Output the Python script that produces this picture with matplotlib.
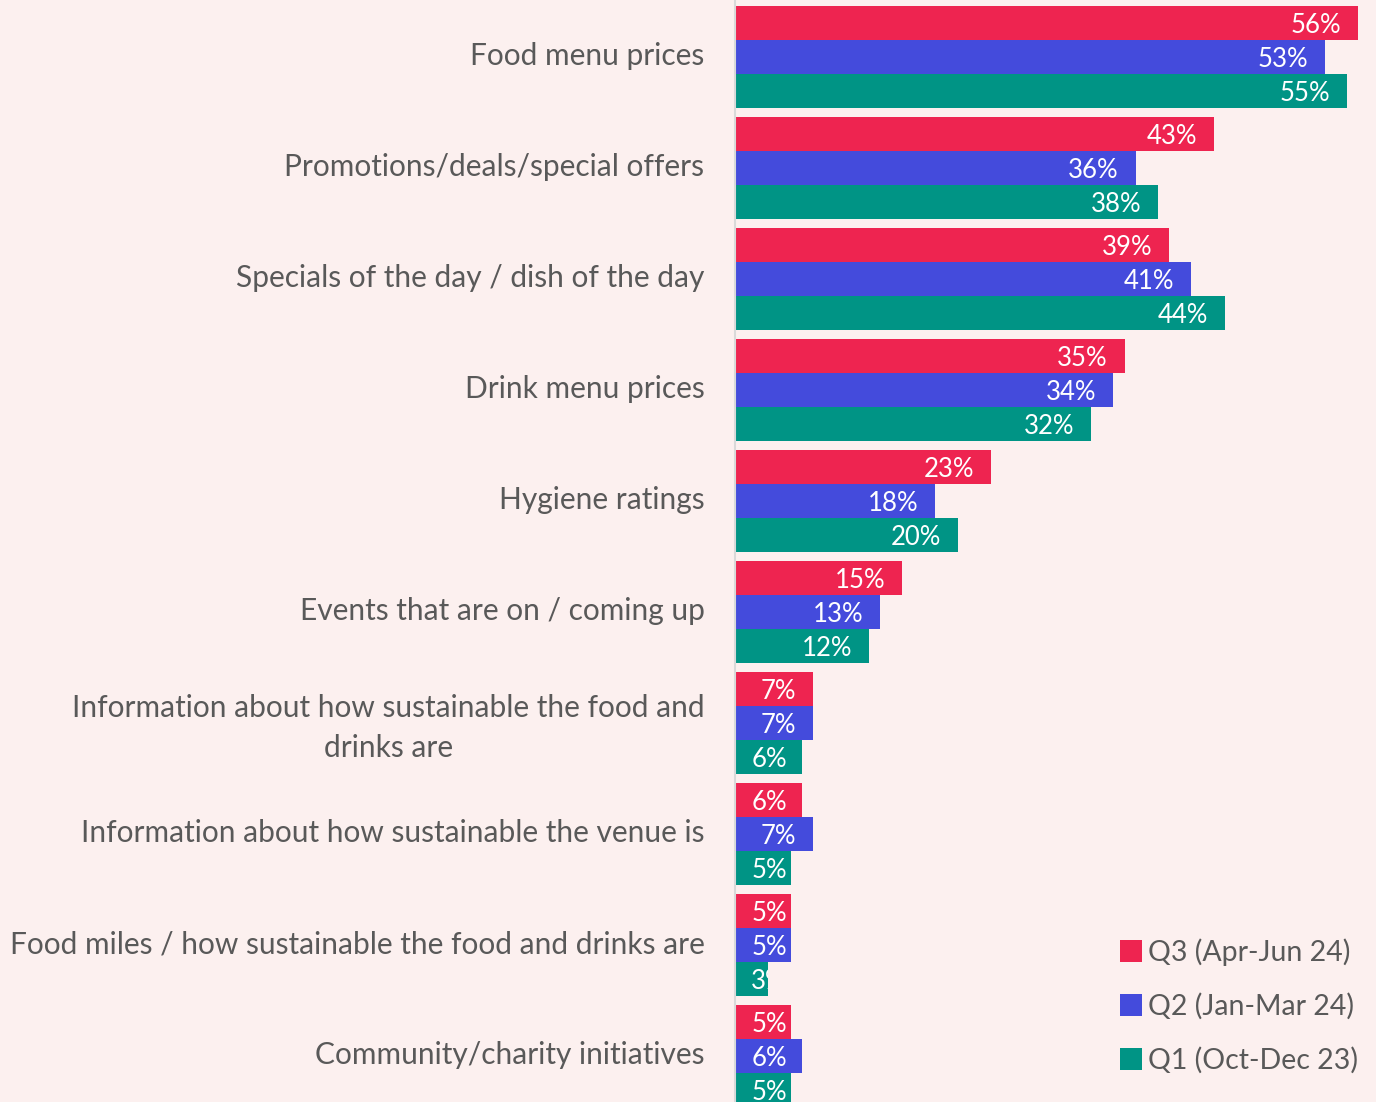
import matplotlib
matplotlib.use("Agg")
import matplotlib.pyplot as plt
from matplotlib.patches import Patch

# survey categories, top to bottom
categories = [
    "Food menu prices",
    "Promotions/deals/special offers",
    "Specials of the day / dish of the day",
    "Drink menu prices",
    "Hygiene ratings",
    "Events that are on / coming up",
    "Information about how sustainable the food and\ndrinks are",
    "Information about how sustainable the venue is",
    "Food miles / how sustainable the food and drinks are",
    "Community/charity initiatives",
]

# percentages per quarter
q3_apr_jun_24 = [56, 43, 39, 35, 23, 15, 7, 6, 5, 5]
q2_jan_mar_24 = [53, 36, 41, 34, 18, 13, 7, 7, 5, 6]
q1_oct_dec_23 = [55, 38, 44, 32, 20, 12, 6, 5, 3, 5]

series_names = ["Q3 (Apr-Jun 24)", "Q2 (Jan-Mar 24)", "Q1 (Oct-Dec 23)"]
series_values = [q3_apr_jun_24, q2_jan_mar_24, q1_oct_dec_23]
colors = ["#EE2450", "#444BDC", "#009485"]

BG = "#FCF0EF"
TEXT = "#595959"
plt.rcParams["font.family"] = ["Lato", "DejaVu Sans"]

W, H = 1376, 1102
fig = plt.figure(figsize=(W / 100, H / 100), dpi=100, facecolor=BG)
ax = fig.add_axes([735 / W, 0, (W - 735) / W, 1])
ax.set_facecolor(BG)

bar_h = 34 / 111
bars_by_series = []
for j, (vals, col) in enumerate(zip(series_values, colors)):
    ys = [i + (j - 1) * bar_h for i in range(len(categories))]
    bars = ax.barh(ys, vals, height=bar_h, color=col, edgecolor="none")
    bars_by_series.append(bars)

ax.set_xlim(0, (W - 735) / 11.13)
ax.set_ylim((H - 57) / 111, -57 / 111)

ax.set_yticks([i - 0.03 for i in range(len(categories))])
ax.set_yticklabels(categories, fontsize=21.5, color=TEXT)
for lab in ax.get_yticklabels():
    lab.set_multialignment("center")
    lab.set_linespacing(1.5)
ax.tick_params(axis="y", length=0, pad=22)
ax.set_xticks([])
for s in ["top", "right", "bottom"]:
    ax.spines[s].set_visible(False)
ax.spines["left"].set_color("#D9D9D9")
ax.spines["left"].set_linewidth(1.5)

# value labels inside the bars, clipped to the bar
pad = 1.5
min_left = 1.45
labels = []
for bars, vals in zip(bars_by_series, series_values):
    for b, v in zip(bars, vals):
        t = ax.text(v - pad, b.get_y() + b.get_height() / 2 + 0.02, f"{v}%",
                    ha="right", va="center", color="white", fontsize=18.5,
                    clip_on=True)
        t.set_clip_path(b)
        labels.append(t)

fig.canvas.draw()
renderer = fig.canvas.get_renderer()
inv = ax.transData.inverted()
for t in labels:
    bb = t.get_window_extent(renderer)
    x0 = inv.transform((bb.x0, bb.y0))[0]
    if x0 < min_left:
        t.set_ha("left")
        t.set_x(min_left)

handles = [Patch(facecolor=c, edgecolor="none") for c in colors]
fig.legend(handles, series_names, loc="center left",
           bbox_to_anchor=(1120 / W, 1 - 1006 / H), frameon=False,
           borderpad=0, borderaxespad=0,
           fontsize=20.5, labelcolor=TEXT, handlelength=0.78, handleheight=0.78,
           handletextpad=0.2, labelspacing=0.95)

fig.savefig("out.png", dpi=100, facecolor=BG)
